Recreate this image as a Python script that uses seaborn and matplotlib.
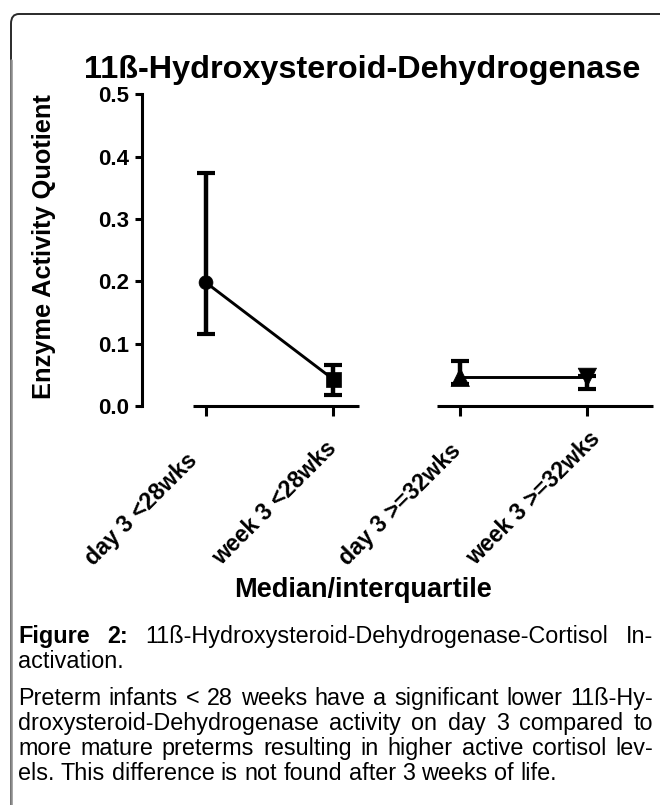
import matplotlib
matplotlib.use("Agg")
import matplotlib.pyplot as plt
import matplotlib.transforms as mtransforms
import seaborn as sns
import numpy as np
import pandas as pd
from matplotlib.patches import FancyBboxPatch
from matplotlib.lines import Line2D

# ---- data ----
categories = ["day 3 <28wks", "week 3 <28wks", "day 3 >=32wks", "week 3 >=32wks"]
groups = ["<28wks", "<28wks", ">=32wks", ">=32wks"]
median = [0.198, 0.043, 0.046, 0.046]
q1 = [0.116, 0.017, 0.035, 0.028]
q3 = [0.374, 0.066, 0.072, 0.048]
marker_shapes = ["o", "s", "^", "v"]
marker_sizes = [100, 115, 175, 175]
yticks = [0.0, 0.1, 0.2, 0.3, 0.4, 0.5]
ytick_labels = ["0.0", "0.1", "0.2", "0.3", "0.4", "0.5"]

title = "11ß-Hydroxysteroid-Dehydrogenase"
ylabel = "Enzyme Activity Quotient"
xlabel = "Median/interquartile"
caption_lines = [
    ([("Figure", "bold"), ("2:", "bold"), ("11ß-Hydroxysteroid-Dehydrogenase-Cortisol", "normal"), ("In-", "normal")], True),
    ([("activation.", "normal")], False),
    ([(w, "normal") for w in "Preterm infants < 28 weeks have a significant lower 11ß-Hy-".split(" ")], True),
    ([(w, "normal") for w in "droxysteroid-Dehydrogenase activity on day 3 compared to".split(" ")], True),
    ([(w, "normal") for w in "more mature preterms resulting in higher active cortisol lev-".split(" ")], True),
    ([(w, "normal") for w in "els. This difference is not found after 3 weeks of life.".split(" ")], False),
]

df = pd.DataFrame({
    "label": categories,
    "group": groups,
    "pos": np.arange(len(categories)),
    "median": median,
    "q1": q1,
    "q3": q3,
})

sns.set_theme(style="white")
FONT = "Liberation Sans"
plt.rcParams["font.family"] = [FONT, "DejaVu Sans"]
plt.rcParams.update({"text.color": "black", "axes.labelcolor": "black",
                     "xtick.color": "black", "ytick.color": "black"})

W, H = 660, 805
fig = plt.figure(figsize=(W / 100, H / 100), dpi=100)
fig.patch.set_facecolor("white")

def fx(px):
    return px / W

def fy(py):
    return 1 - py / H

# frame (rounded box, open to the right and bottom)
frame = FancyBboxPatch((fx(11), fy(H + 40)), fx(W + 40), (H + 40 - 14) / H,
                       boxstyle="round,pad=0,rounding_size=0.012",
                       transform=fig.transFigure, facecolor="none",
                       edgecolor="#2a2a2a", linewidth=1.4, zorder=0)
fig.patches.append(frame)
fig.lines.append(Line2D([fx(11), fx(11)], [fy(60), fy(H + 5)], transform=fig.transFigure,
                        color="#8c8c8c", linewidth=1.8, zorder=1))

# axes
ax = fig.add_axes([fx(141.7), fy(406), fx(652.7) - fx(141.7), fy(94.5) - fy(406)])
ax.set_facecolor("none")
ax.set_xlim(-0.506, 3.514)
ax.set_ylim(0, 0.5)

LW = 2.2
for s in ["top", "right", "bottom"]:
    ax.spines[s].set_visible(False)
ax.spines["left"].set_linewidth(LW)
ax.spines["left"].set_color("black")
ax.spines["left"].set_bounds(0, 0.5)

# broken x axis segments
pos = df["pos"].to_numpy()
ax.plot([pos[0] - 0.105, pos[1] + 0.2], [0, 0], color="black", lw=LW, clip_on=False,
        solid_capstyle="butt")
ax.plot([pos[2] - 0.185, pos[3] + 0.514], [0, 0], color="black", lw=LW, clip_on=False,
        solid_capstyle="butt")

# connecting lines
sns.lineplot(data=df, x="pos", y="median", units="group", estimator=None,
             color="black", linewidth=2.1, ax=ax, legend=False, zorder=3)

# error bars (interquartile)
ax.errorbar(df["pos"], df["median"],
            yerr=[df["median"] - df["q1"], df["q3"] - df["median"]],
            fmt="none", ecolor="black", elinewidth=3.2, capsize=6.5, capthick=3.0,
            zorder=4)

# markers
sns.scatterplot(data=df, x="pos", y="median", style="label", size="label",
                markers=dict(zip(categories, marker_shapes)),
                sizes=dict(zip(categories, marker_sizes)),
                color="black", edgecolor="black", linewidth=0.5,
                ax=ax, legend=False, zorder=5)

ax.set_xlabel("")
ax.set_ylabel("")
ax.set_yticks(yticks)
ax.set_yticklabels(ytick_labels, fontsize=16, fontweight="bold", family=FONT)
ax.set_xticks(pos)
ax.set_xticklabels(categories, fontsize=16.7, fontweight="bold", family=FONT,
                   rotation=45, ha="left", va="center", rotation_mode="anchor")
ax.tick_params(axis="y", direction="out", length=5, width=LW, pad=4, left=True)
ax.tick_params(axis="x", direction="out", length=7, width=LW, pad=0, bottom=True)
shift = mtransforms.ScaledTranslation(-1.17, -1.46, fig.dpi_scale_trans)
for lab in ax.get_xticklabels():
    lab.set_transform(lab.get_transform() + shift)

# titles
fig.text(fx(362.5), fy(78), title, ha="center", va="baseline", fontsize=23.3,
         fontweight="bold", family=FONT)
fig.text(fx(44), fy(247), ylabel, ha="center", va="center", rotation=90,
         fontsize=18.3, fontweight="bold", family=FONT)
fig.text(fx(363), fy(597), xlabel, ha="center", va="baseline", fontsize=19.5,
         fontweight="bold", family=FONT)

# caption, justified
CAP_SIZE = 16.8
LEFT, RIGHT = 18, 653
baselines = [643, 668, 705, 730, 755, 780]
renderer = fig.canvas.get_renderer()

def text_width(s, weight):
    t = fig.text(0, 0, s, fontsize=CAP_SIZE, fontweight=weight, family=FONT)
    w = t.get_window_extent(renderer).width
    t.remove()
    return w

space_w = text_width("a a", "normal") - text_width("aa", "normal")

for (tokens, justify), yb in zip(caption_lines, baselines):
    widths = [text_width(t, w) for t, w in tokens]
    if justify and len(tokens) > 1:
        gap = (RIGHT - LEFT - sum(widths)) / (len(tokens) - 1)
    else:
        gap = space_w
    x = LEFT
    for (t, wgt), w in zip(tokens, widths):
        fig.text(fx(x), fy(yb), t, ha="left", va="baseline", fontsize=CAP_SIZE,
                 fontweight=wgt, family=FONT, color="black")
        x += w + gap

fig.savefig("out.png", dpi=100, facecolor="white")
